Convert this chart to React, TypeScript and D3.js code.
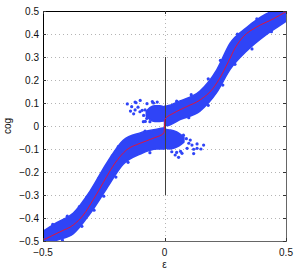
import React from "react";
import * as d3 from "d3";

// ---- data ----
const xTicks = [-0.5, 0, 0.5];
const yTicks = [-0.5, -0.4, -0.3, -0.2, -0.1, 0, 0.1, 0.2, 0.3, 0.4, 0.5];

// red mean curve
const curveEps = [-0.5, -0.43, -0.375, -0.334, -0.293, -0.265, -0.238, -0.204, -0.156, -0.1, -0.046, -0.002,
  0.002, 0.036, 0.091, 0.146, 0.2, 0.235, 0.263, 0.29, 0.324, 0.379, 0.448, 0.5];
const curveCog = [-0.496, -0.46, -0.43, -0.387, -0.32, -0.27, -0.22, -0.162, -0.104, -0.075, -0.053, -0.03,
  0.03, 0.055, 0.084, 0.113, 0.164, 0.222, 0.28, 0.338, 0.388, 0.43, 0.466, 0.497];

// dense scatter band, left branch
const leftEps = [-0.52, -0.5, -0.444, -0.375, -0.307, -0.238, -0.17, -0.1, -0.032, 0];
const leftLow = [-0.52, -0.52, -0.497, -0.468, -0.382, -0.272, -0.166, -0.122, -0.1, -0.1];
const leftHigh = [-0.47, -0.457, -0.42, -0.378, -0.284, -0.162, -0.062, -0.03, -0.014, -0.008];
// dense scatter band, right branch
const rightEps = [0, 0.009, 0.064, 0.146, 0.215, 0.27, 0.338, 0.42, 0.5, 0.52];
const rightLow = [0.002, 0.002, 0.028, 0.065, 0.146, 0.246, 0.326, 0.398, 0.455, 0.47];
const rightHigh = [0.086, 0.087, 0.109, 0.152, 0.244, 0.36, 0.428, 0.488, 0.52, 0.52];

// dense cores of the crossed clusters
const ulEps = [-0.075, -0.06, -0.04, -0.02, -0.004];
const ulLow = [0.042, 0.028, 0.02, 0.02, 0.022];
const ulHigh = [0.064, 0.08, 0.088, 0.088, 0.084];
const lrEps = [0.004, 0.02, 0.04, 0.06, 0.08];
const lrLow = [-0.096, -0.1, -0.096, -0.086, -0.07];
const lrHigh = [-0.014, -0.017, -0.022, -0.032, -0.048];

// sparse dots around the centre
const sparseEps = [-0.153, -0.121, -0.1, -0.109, -0.072, -0.092, -0.127, -0.086, -0.079, -0.135, -0.121, -0.101,
  -0.08, -0.067, -0.073, -0.087, -0.06, -0.117, -0.045, -0.14, -0.05, -0.03,
  0.1, 0.113, 0.134, 0.161, 0.12, 0.093, 0.072, 0.044, 0.058, 0.106, 0.134, 0.09, 0.078, 0.066, 0.15, 0.12, 0.03, 0.05];
const sparseCog = [0.096, 0.104, 0.111, 0.082, 0.097, 0.068, 0.053, 0.046, 0.02, 0.084, 0.07, 0.062,
  0.07, 0.055, 0.033, 0.019, 0.019, 0.101, 0.1, 0.065, 0.106, 0.104,
  -0.075, -0.083, -0.078, -0.083, -0.101, -0.097, -0.119, -0.126, -0.136, -0.061, -0.097, -0.055, -0.04, -0.11, -0.1, -0.12, -0.112, -0.115];

// fuzz dots hugging the band edges
const edgeEps = [-0.46, -0.4, -0.35, -0.32, -0.27, -0.215, -0.19, -0.14, -0.08,
  -0.42, -0.34, -0.29, -0.25, -0.2, -0.15, -0.06,
  0.05, 0.11, 0.18, 0.23, 0.3, 0.38,
  0.1, 0.18, 0.24, 0.29, 0.36, 0.44];
const edgeCog = [-0.428, -0.392, -0.35, -0.31, -0.228, -0.13, -0.09, -0.05, -0.022,
  -0.496, -0.436, -0.366, -0.305, -0.222, -0.158, -0.116,
  0.108, 0.136, 0.205, 0.285, 0.4, 0.466,
  0.036, 0.09, 0.178, 0.268, 0.335, 0.41];

const W = 297;
const H = 274;
const L = 43, R = 286, T = 11, B = 241;
const BLUE = "#2f44f7";
const FONT = "'Liberation Sans', Arial, Helvetica, sans-serif";

export default function App() {
  const x = d3.scaleLinear().domain([-0.5, 0.5]).range([L, R]);
  const y = d3.scaleLinear().domain([-0.5, 0.5]).range([B, T]);

  const band = (eps: number[], lo: number[], hi: number[]) =>
    d3.area<number>()
      .x((_, i) => x(eps[i]))
      .y0((_, i) => y(lo[i]))
      .y1((_, i) => y(hi[i]))
      .curve(d3.curveMonotoneX)(eps.map((_, i) => i)) || "";

  const line = d3.line<number>()
    .x((_, i) => x(curveEps[i]))
    .y((_, i) => y(curveCog[i]))
    .curve(d3.curveMonotoneX)(curveEps.map((_, i) => i)) || "";

  const fmt = (v: number) => {
    const s = d3.format(".1~f")(Math.abs(v));
    return (v < 0 ? "\u2212" : "") + (Math.abs(v) < 1e-9 ? "0" : s);
  };

  return (
    <svg width={W} height={H} style={{ position: "absolute", left: 0, top: 0, background: "#fff" }}
      fontFamily={FONT}>
      <defs>
        <clipPath id="plotclip">
          <rect x={L} y={T} width={R - L} height={B - T} />
        </clipPath>
      </defs>
      <rect x={0} y={0} width={W} height={H} fill="#fff" />
      {/* grid */}
      <g stroke="#b4b4b4" strokeWidth={1} strokeDasharray="1,3">
        {yTicks.filter((t) => t > -0.5 && t < 0.5).map((t) => (
          <line key={"gy" + t} x1={L} x2={R} y1={Math.round(y(t)) + 0.5} y2={Math.round(y(t)) + 0.5} />
        ))}
        {xTicks.filter((t) => t > -0.5 && t < 0.5).map((t) => (
          <line key={"gx" + t} y1={T} y2={B} x1={Math.round(x(t)) + 0.5} x2={Math.round(x(t)) + 0.5} />
        ))}
      </g>
      {/* scatter */}
      <g clipPath="url(#plotclip)" fill={BLUE} stroke={BLUE} strokeWidth={1.5} strokeLinejoin="round">
        <path d={band(leftEps, leftLow, leftHigh)} />
        <path d={band(rightEps, rightLow, rightHigh)} />
        <path d={band(ulEps, ulLow, ulHigh)} />
        <path d={band(lrEps, lrLow, lrHigh)} />
      </g>
      <g clipPath="url(#plotclip)" fill={BLUE}>
        {sparseEps.map((e, i) => (
          <circle key={"s" + i} cx={x(e)} cy={y(sparseCog[i])} r={1.6} />
        ))}
        {edgeEps.map((e, i) => (
          <circle key={"e" + i} cx={x(e)} cy={y(edgeCog[i])} r={1.6} />
        ))}
      </g>
      {/* vertical line at 0 */}
      <line x1={Math.round(x(0)) + 0.5} x2={Math.round(x(0)) + 0.5} y1={y(-0.3)} y2={y(0.3)} stroke="#404040" strokeWidth={1} />
      {/* red mean curve */}
      <path d={line} fill="none" stroke="#e0143c" strokeWidth={1} clipPath="url(#plotclip)" />
      {/* axes box */}
      <line x1={L} x2={R} y1={T + 0.5} y2={T + 0.5} stroke="#000" />
      <line x1={L + 0.5} x2={L + 0.5} y1={T} y2={B} stroke="#000" />
      <line x1={L} x2={R + 1} y1={B + 0.5} y2={B + 0.5} stroke="#666" />
      <line x1={R + 0.5} x2={R + 0.5} y1={T} y2={B + 1} stroke="#666" />
      {/* ticks */}
      <g stroke="#333">
        {yTicks.map((t) => (
          <g key={"ty" + t}>
            <line x1={L} x2={L + 3} y1={Math.round(y(t)) + 0.5} y2={Math.round(y(t)) + 0.5} />
            <line x1={R - 3} x2={R} y1={Math.round(y(t)) + 0.5} y2={Math.round(y(t)) + 0.5} />
          </g>
        ))}
        {xTicks.map((t) => (
          <g key={"tx" + t}>
            <line y1={B} y2={B - 3} x1={Math.round(x(t)) + 0.5} x2={Math.round(x(t)) + 0.5} />
            <line y1={T} y2={T + 3} x1={Math.round(x(t)) + 0.5} x2={Math.round(x(t)) + 0.5} />
          </g>
        ))}
      </g>
      {/* tick labels */}
      <g fontSize={10} fill="#111">
        {yTicks.map((t) => (
          <text key={"ly" + t} x={L - 4} y={y(t) + 3.5} textAnchor="end">{fmt(t)}</text>
        ))}
        {xTicks.map((t) => (
          <text key={"lx" + t} x={x(t)} y={256} textAnchor="middle">{fmt(t)}</text>
        ))}
      </g>
      <text x={x(0)} y={268} textAnchor="middle" fontSize={10} fill="#111">ε</text>
      <text transform={`translate(11,${(T + B) / 2}) rotate(-90)`} textAnchor="middle" fontSize={10} fill="#111">cog</text>
    </svg>
  );
}
